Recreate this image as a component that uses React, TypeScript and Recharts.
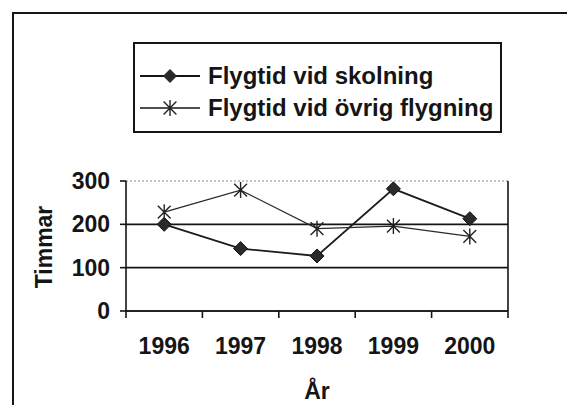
import React from 'react';
import { Label, Legend, Line, LineChart, ReferenceLine, XAxis, YAxis } from 'recharts';

const years = ['1996', '1997', '1998', '1999', '2000'];
const skolning = [200, 144, 127, 282, 213];
const ovrig = [228, 279, 190, 196, 172];
const yTicks = [0, 100, 200, 300];
const seriesNames = ['Flygtid vid skolning', 'Flygtid vid övrig flygning'];

const data = years.map((year, i) => ({ year, skolning: skolning[i], ovrig: ovrig[i] }));

const FONT = '"Liberation Sans", Arial, sans-serif';
const INK = '#151515';

function diamondPath(cx: number, cy: number, r: number) {
  return `M${cx},${cy - r}L${cx + r},${cy}L${cx},${cy + r}L${cx - r},${cy}Z`;
}

function starPath(cx: number, cy: number, r: number) {
  const d = r * 0.8;
  return `M${cx},${cy - r}L${cx},${cy + r}M${cx - d},${cy - d}L${cx + d},${cy + d}M${cx - d},${cy + d}L${cx + d},${cy - d}`;
}

const DiamondDot = (props: any) => {
  const { cx, cy, index } = props;
  if (cx == null || cy == null) return <g key={index} />;
  return <path key={index} d={diamondPath(cx, cy, 7)} fill="#2a2a2a" stroke="#111" strokeWidth={1} />;
};

const StarDot = (props: any) => {
  const { cx, cy, index } = props;
  if (cx == null || cy == null) return <g key={index} />;
  return <path key={index} d={starPath(cx, cy, 8)} fill="none" stroke="#222" strokeWidth={1.4} />;
};

// year label at the band centre, tick marks on the band edges (Excel "between categories" style)
const YearTick = (props: any) => {
  const { x, y, payload, index, width, visibleTicksCount } = props;
  const half = width / (visibleTicksCount || years.length) / 2;
  return (
    <g>
      {index === 0 && <line x1={x - half} y1={y} x2={x - half} y2={y + 7} stroke={INK} strokeWidth={1.6} />}
      <line x1={x + half} y1={y} x2={x + half} y2={y + 7} stroke={INK} strokeWidth={1.6} />
      <text x={x} y={y + 43} textAnchor="middle" fontFamily={FONT} fontWeight="bold" fontSize={23} fill={INK}>
        {payload.value}
      </text>
    </g>
  );
};

const LegendBox = () => (
  <div
    style={{
      border: `2px solid ${INK}`,
      background: '#fff',
      width: 369,
      height: 91,
      boxSizing: 'border-box',
      paddingTop: 16,
      fontFamily: FONT,
      fontWeight: 'bold',
      fontSize: 24,
      color: INK,
    }}
  >
    {seriesNames.map((name, i) => (
      <div key={name} style={{ display: 'flex', alignItems: 'center', height: 32 }}>
        <svg width={62} height={30} style={{ marginLeft: 5 }}>
          <line x1={0} y1={15} x2={60} y2={15} stroke={INK} strokeWidth={i === 0 ? 1.8 : 1.3} />
          {i === 0 ? (
            <path d={diamondPath(30, 15, 7)} fill="#2a2a2a" />
          ) : (
            <path d={starPath(30, 15, 8)} fill="none" stroke="#222" strokeWidth={1.4} />
          )}
        </svg>
        <span style={{ marginLeft: 6, whiteSpace: 'nowrap' }}>{name}</span>
      </div>
    ))}
  </div>
);

const TimmarLabel = () => (
  <text
    x={52}
    y={247}
    transform="rotate(-90, 52, 247)"
    textAnchor="middle"
    fontFamily={FONT}
    fontWeight="bold"
    fontSize={23}
    fill={INK}
  >
    Timmar
  </text>
);

export default function App() {
  return (
    <div style={{ position: 'fixed', left: 0, top: 0, width: 567, height: 405, overflow: 'hidden', background: '#fff' }}>
      <div
        style={{
          position: 'absolute',
          left: 12,
          top: 12,
          width: 580,
          height: 420,
          border: `2px solid ${INK}`,
          boxSizing: 'border-box',
        }}
      />
      <div style={{ position: 'absolute', left: 0, top: 0 }}>
        <LineChart width={567} height={405} data={data} margin={{ top: 181, right: 59, left: 0, bottom: 0 }}>
          <XAxis
            dataKey="year"
            scale="band"
            height={94}
            interval={0}
            tickSize={0}
            tickMargin={0}
            tickLine={false}
            tick={<YearTick />}
            stroke={INK}
            axisLine={{ stroke: INK, strokeWidth: 1.6 }}
          >
            <Label
              value="År"
              position="insideBottom"
              offset={6}
              fill={INK}
              fontFamily={FONT}
              fontWeight="bold"
              fontSize={23}
            />
          </XAxis>
          <YAxis
            width={126}
            domain={[0, 300]}
            ticks={yTicks}
            interval={0}
            tickSize={6}
            tickMargin={10}
            axisLine={{ stroke: INK, strokeWidth: 1.6 }}
            tickLine={{ stroke: INK, strokeWidth: 1.6 }}
            tick={{ fill: INK, fontFamily: FONT, fontWeight: 'bold', fontSize: 23 }}
            label={<TimmarLabel />}
          />
          <ReferenceLine y={0} stroke={INK} strokeWidth={1.6} ifOverflow="visible" />
          <ReferenceLine y={100} stroke={INK} strokeWidth={1.6} />
          <ReferenceLine y={200} stroke={INK} strokeWidth={1.6} />
          <ReferenceLine y={300} stroke="#888" strokeWidth={1.2} strokeDasharray="2 2" />
          <ReferenceLine
            x={years[years.length - 1]}
            position="end"
            ifOverflow="visible"
            stroke={INK}
            strokeWidth={1.6}
          />
          <Line
            dataKey="skolning"
            name={seriesNames[0]}
            stroke="#1c1c1c"
            strokeWidth={1.8}
            dot={DiamondDot}
            activeDot={false}
            isAnimationActive={false}
          />
          <Line
            dataKey="ovrig"
            name={seriesNames[1]}
            stroke="#2a2a2a"
            strokeWidth={1.3}
            dot={StarDot}
            activeDot={false}
            isAnimationActive={false}
          />
          <Legend
            layout="vertical"
            align="center"
            verticalAlign="middle"
            content={<LegendBox />}
            wrapperStyle={{ left: 133, top: 42, width: 369 }}
          />
        </LineChart>
      </div>
    </div>
  );
}
